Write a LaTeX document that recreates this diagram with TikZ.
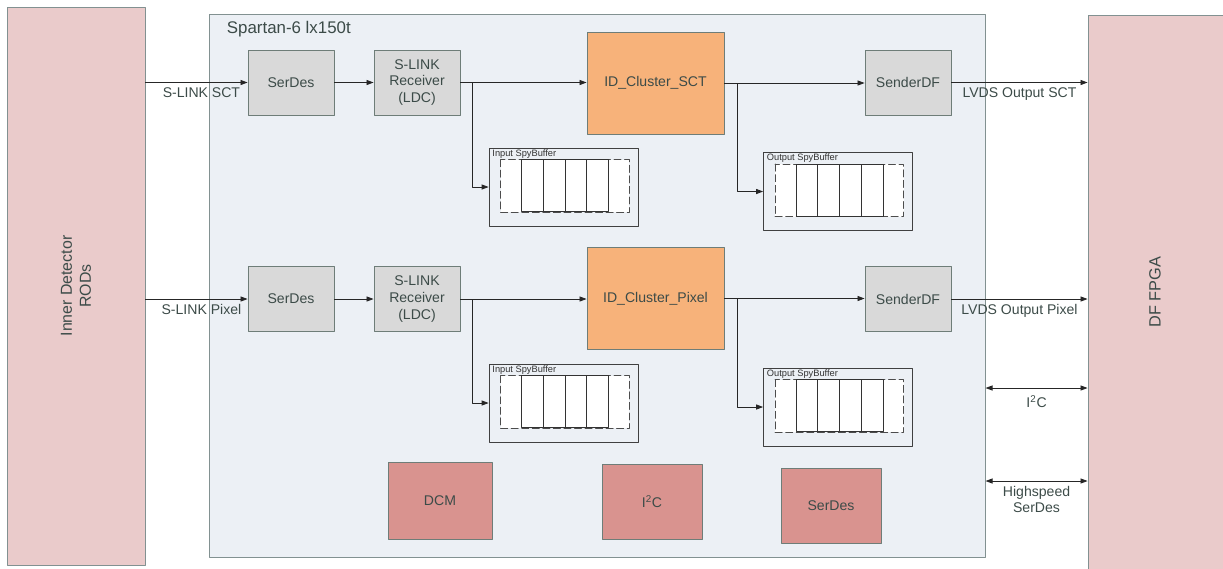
\documentclass[tikz,border=0pt]{standalone}
\usepackage{fontspec}
\setmainfont{Liberation Sans}
\usepackage{tikz}
\usetikzlibrary{arrows.meta}
\usetikzlibrary{calc}
\usetikzlibrary{positioning}
\definecolor{rodpink}{RGB}{234,203,203}
\definecolor{chipbg}{RGB}{236,240,245}
\definecolor{chipline}{RGB}{130,145,145}
\definecolor{blockgray}{RGB}{217,217,217}
\definecolor{blockline}{RGB}{110,125,120}
\definecolor{clusterorange}{RGB}{247,178,122}
\definecolor{corered}{RGB}{217,147,143}
\definecolor{txtgray}{RGB}{60,75,72}

\begin{document}
\begin{tikzpicture}[line cap=round,line join=round,>={Triangle[length=5pt,width=3.6pt]},x=0.025cm,y=-0.025cm,
  font=\fontsize{10}{11.8}\selectfont,text=txtgray,
  rodbox/.style={draw=chipline,fill=rodpink,line width=0.6pt,inner sep=0pt},
  greybox/.style={draw=blockline,fill=blockgray,line width=0.6pt,minimum width=2.15cm,minimum height=1.625cm,align=center,inner sep=0pt},
  clubox/.style={draw=blockline,fill=clusterorange,line width=0.6pt,minimum width=3.425cm,minimum height=2.55cm,inner sep=0pt},
  corebox/.style={draw=blockline,fill=corered,line width=0.6pt,inner sep=0pt},
  spybox/.style={draw=black!75,fill=chipbg,line width=0.5pt,minimum width=3.725cm,minimum height=1.95cm,inner sep=0pt},
  link/.style={draw=black!85,line width=0.6pt}]
\useasboundingbox (0,0) rectangle (1223,568);
% boards on both sides
\node[rodbox,minimum width=3.45cm,minimum height=13.95cm] (rods) at (76,286) {};
\node[rotate=90,align=center,font=\fontsize{11.3}{13.5}\selectfont] (rodstxt) at (rods) {Inner Detector\\RODs};
\node[rodbox,minimum width=3.5cm,minimum height=13.925cm] (fpga) at (1158,293.5) {};
\node[rotate=90,font=\fontsize{11.6}{13}\selectfont] (fpgatxt) at (1155,292) {DF FPGA};
% the FPGA
\node[draw=chipline,fill=chipbg,line width=0.6pt,minimum width=19.375cm,minimum height=13.575cm,inner sep=0pt] (chip) at (597.5,285.5) {};
\node[anchor=base west,font=\fontsize{12}{14}\selectfont] (chiptxt) at (222,33) {Spartan-6 lx150t};
% SCT chain
\node[greybox] (serS) at (291,82.5) {SerDes};
\node[greybox] (rcvS) at (417,82.5) {S-LINK\\Receiver\\(LDC)};
\node[clubox] (cluS) at (655.5,83) {ID\_Cluster\_SCT};
\node[greybox] (sndS) at (908,82.5) {SenderDF};
% Pixel chain
\node[greybox] (serP) at (291,299) {SerDes};
\node[greybox] (rcvP) at (417,299) {S-LINK\\Receiver\\(LDC)};
\node[clubox] (cluP) at (655.5,298.5) {ID\_Cluster\_Pixel};
\node[greybox] (sndP) at (908,299) {SenderDF};
% spy buffers
\foreach \nm/\cx/\cy/\kind in {isbS/563.5/187/Input,osbS/838/191.5/Output,isbP/563.5/403/Input,osbP/838/407/Output}{
  \node[spybox] (\nm) at (\cx,\cy) {};
  \node[anchor=north west,inner sep=1pt,font=\fontsize{6.6}{7}\selectfont,text=black!80] (\nm-t) at ([xshift=1.5pt]\nm.north west) {\kind\ SpyBuffer};
  \draw[dash pattern=on 5pt off 2.5pt,fill=white,draw=black!70,line width=0.6pt] ($(\nm.north west)+(12,12)$) rectangle ($(\nm.south east)+(-9,-14)$);
  \foreach \k in {0,...,3}
    \draw[black!80,line width=0.6pt] ($(\nm.north west)+(33+21.75*\k,12)$) rectangle ++(21.75,52);
}
% blocks at the bottom
\node[corebox,minimum width=2.6cm,minimum height=1.925cm] (dcm) at (440,500.5) {DCM};
\node[corebox,minimum width=2.5cm,minimum height=1.875cm] (i2c) at (652,501.5) {I\textsuperscript{2}C};
\node[corebox,minimum width=2.5cm,minimum height=1.875cm] (sdes) at (831,505.5) {SerDes};
% connections
\draw[link,->] (rods.east |- serS) -- (serS.west) node[midway,below,xshift=3.5pt] {S-LINK SCT};
\draw[link,->] (serS) -- (rcvS);
\draw[link,->] (rcvS.east) -- (rcvS.east -| cluS.west);
\draw[link,->] (rcvS.east) -- ++(12,0) |- (isbS.west);
\draw[link,->] (cluS.east) -- (cluS.east -| sndS.west);
\draw[link,->] (cluS.east) -- ++(13,0) |- (osbS.west);
\draw[link,->] (sndS.east) -- (sndS.east -| fpga.west) node[midway,below] {LVDS Output SCT};
\draw[link,->] (rods.east |- serP) -- (serP.west) node[midway,below,xshift=3.5pt] {S-LINK Pixel};
\draw[link,->] (serP) -- (rcvP);
\draw[link,->] (rcvP.east) -- (rcvP.east -| cluP.west);
\draw[link,->] (rcvP.east) -- ++(12,0) |- (isbP.west);
\draw[link,->] (cluP.east) -- (cluP.east -| sndP.west);
\draw[link,->] (cluP.east) -- ++(13,0) |- (osbP.west);
\draw[link,->] (sndP.east) -- (sndP.east -| fpga.west) node[midway,below] {LVDS Output Pixel};
\coordinate (i2cy) at (0,388);
\coordinate (hsy) at (0,481);
\draw[link,<->] (chip.east |- i2cy) -- (fpga.west |- i2cy) node[midway,below=2pt] {I\textsuperscript{2}C};
\draw[link,<->] (chip.east |- hsy) -- (fpga.west |- hsy) node[midway,below,align=center] {Highspeed\\SerDes};
\end{tikzpicture}
\end{document}
